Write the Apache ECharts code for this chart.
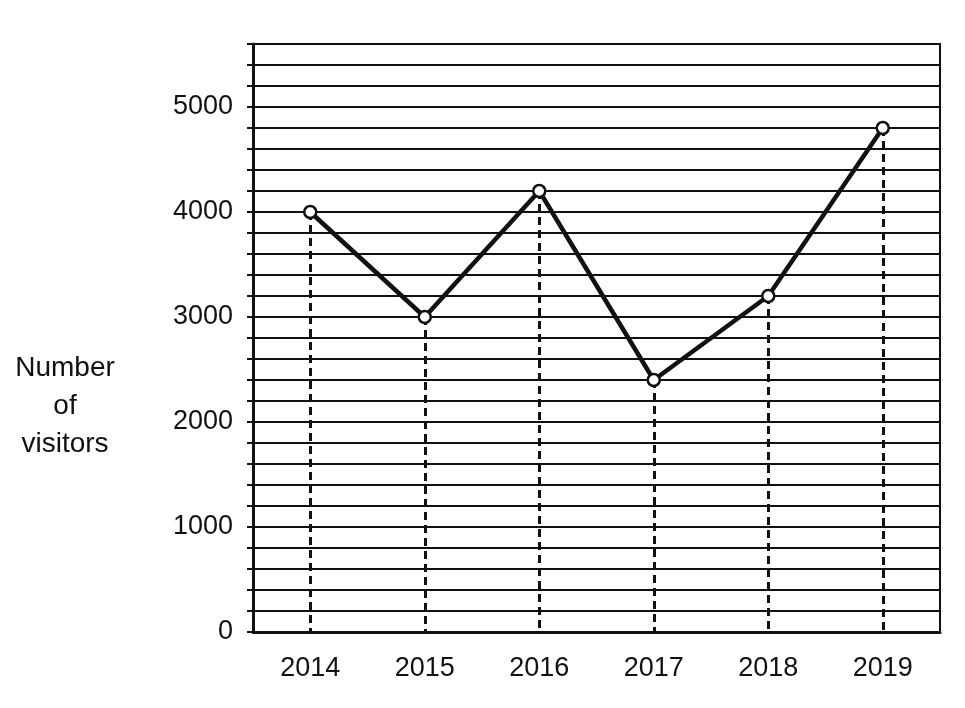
<!DOCTYPE html>
<html>
<head>
<meta charset="utf-8">
<script src="https://cdn.jsdelivr.net/npm/echarts@6/dist/echarts.min.js"></script>
<style>
html, body { margin: 0; padding: 0; background: #fff; }
#chart { width: 965px; height: 708px; }
</style>
</head>
<body>
<div id="chart"></div>
<script>
// data
var years = ['2014', '2015', '2016', '2017', '2018', '2019'];
var visitors = [4000, 3000, 4200, 2400, 3200, 4800];
var yMin = 0;
var yMax = 5600;
var yStep = 200; //grid lines
var yLabelStep = 1000; //labelled ticks

var ink = '#111';
var font = '"Liberation Sans", Arial, sans-serif';

//dashed drop lines from each point down to the axis
var dropLines = [];
for (var i = 0; i < years.length; i++) {
	dropLines.push([{ xAxis: i, yAxis: visitors[i] }, { xAxis: i, yAxis: yMin }]);
}

var getOption = function() {
	var option = {
		animation: false,
		backgroundColor: '#fff',
		graphic: [{
			type: 'text',
			x: 65,
			y: 349,
			style: {
				text: 'Number\nof\nvisitors',
				align: 'center',
				verticalAlign: 'top',
				fontFamily: font,
				fontSize: 28,
				lineHeight: 38,
				fill: ink
			}
		}],
		grid: {
			left: 253,
			right: 25,
			top: 44,
			bottom: 76,
			show: true,
			borderColor: ink,
			borderWidth: 2,
			backgroundColor: 'transparent'
		},
		xAxis: [{
			type: 'category',
			data: years,
			boundaryGap: true,
			axisLine: { lineStyle: { color: ink, width: 3 } },
			axisTick: { show: false },
			splitLine: { show: false },
			axisLabel: {
				margin: 23,
				fontFamily: font,
				fontSize: 27,
				color: ink
			}
		}],
		yAxis: [{
			type: 'value',
			min: yMin,
			max: yMax,
			interval: yStep,
			axisLine: { show: true, lineStyle: { color: ink, width: 3 } },
			axisTick: { show: true, length: 6, lineStyle: { color: ink, width: 2 } },
			splitLine: { show: true, lineStyle: { color: ink, width: 2 } },
			axisLabel: {
				margin: 20,
				fontFamily: font,
				fontSize: 27,
				color: ink,
				formatter: function(v) {
					return v % yLabelStep === 0 ? String(v) : '';
				}
			}
		}],
		series: [{
			name: 'Number of visitors',
			type: 'line',
			data: visitors,
			symbol: 'circle',
			symbolSize: 12,
			itemStyle: { color: '#fff', borderColor: ink, borderWidth: 2.5 },
			lineStyle: { color: ink, width: 4.5 },
			z: 5,
			markLine: {
				silent: true,
				symbol: ['none', 'none'],
				label: { show: false },
				lineStyle: { color: ink, width: 3, type: [8, 5] },
				data: dropLines
			}
		}]
	};
	return option;
};

var chart = echarts.init(document.getElementById('chart'));
chart.setOption(getOption());
</script>
</body>
</html>
